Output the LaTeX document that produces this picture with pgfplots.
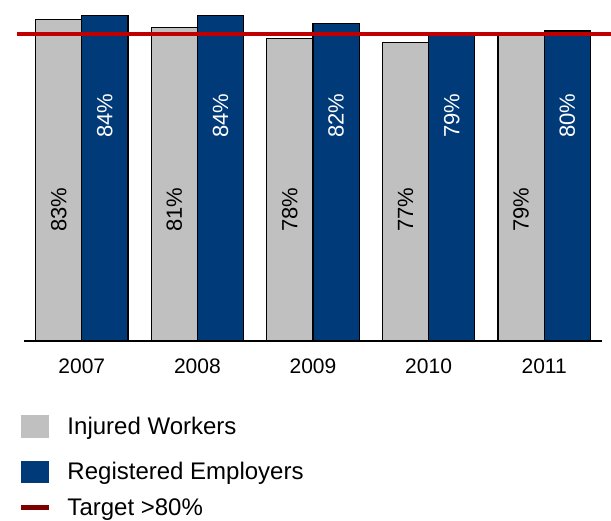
\documentclass[border=0pt]{standalone}
\usepackage{fontspec}
\setmainfont{Liberation Sans}
\usepackage{pgfplots}
\pgfplotsset{compat=1.18}
\definecolor{barGray}{HTML}{C0C0C0}
\definecolor{barNavy}{HTML}{003A78}
\definecolor{targetRed}{HTML}{C00000}
\definecolor{legRed}{HTML}{800000}
\begin{document}
\begin{tikzpicture}[font=\fontsize{21}{25}\selectfont]
\begin{axis}[
  scale only axis,
  width=578pt, height=341pt,
  at={(0,0)}, anchor=south west,
  xmin=-0.5, xmax=4.5, ymin=0, ymax=88,
  axis x line=bottom, axis y line=none,
  axis line style={-, line width=1.5pt, black},
  xtick={0,1,2,3,4},
  xticklabels={2007,2008,2009,2010,2011},
  major tick length=0pt,
  xticklabel style={font=\fontsize{21}{25}\selectfont, yshift=-14pt},
  clip=false,
  legend cell align=left,
  legend style={at={(0,0)}, anchor=north west, xshift=-6pt, yshift=-74pt,
    draw=none, fill=none, inner sep=0pt, outer sep=0pt,
    row sep=15.5pt, column sep=16pt,
    font=\fontsize{24}{28}\selectfont,
    nodes={inner sep=0pt}},
]
\addplot[ybar, bar width=0.4, bar shift=-0.2, fill=barGray, draw=black, line width=1.2pt,
  area legend,
  legend image code/.code={\fill[barGray, draw=none] (0pt,-11.5pt) rectangle (28pt,11.5pt);
    \path[draw=none, fill=none] (0pt,-19pt) -- (0pt,0pt);}]
  coordinates {(0,83) (1,81) (2,78) (3,77) (4,79)};
\addlegendentry{Injured Workers}
\addplot[ybar, bar width=0.4, bar shift=0.2, fill=barNavy, draw=black, line width=1.2pt,
  area legend,
  legend image code/.code={\fill[barNavy, draw=none] (0pt,-11pt) rectangle (28pt,11pt);}]
  coordinates {(0,84) (1,84) (2,82) (3,79) (4,80)};
\addlegendentry{Registered Employers}
\addplot[targetRed, line width=4pt, mark=none,
  legend image code/.code={\draw[legRed, line width=5.5pt] (0pt,0pt) -- (28pt,0pt);}]
  coordinates {(-0.56,79.3) (4.58,79.3)};
\addlegendentry{Target >80\%}
% value labels
\addplot[draw=none, mark=none, forget plot, point meta=explicit symbolic,
  nodes near coords={\pgfplotspointmeta},
  every node near coord/.append style={rotate=90, anchor=center, black, inner sep=0pt,
    font=\fontsize{22}{26}\selectfont}]
  coordinates {(-0.2,33.9) [83\%] (0.8,33.9) [81\%] (1.8,33.9) [78\%] (2.8,33.9) [77\%] (3.8,33.9) [79\%]};
\addplot[draw=none, mark=none, forget plot, point meta=explicit symbolic,
  nodes near coords={\pgfplotspointmeta},
  every node near coord/.append style={rotate=90, anchor=center, white, inner sep=0pt,
    font=\fontsize{22}{26}\selectfont}]
  coordinates {(0.2,58.1) [84\%] (1.2,58.1) [84\%] (2.2,58.1) [82\%] (3.2,58.1) [79\%] (4.2,58.1) [80\%]};
\end{axis}
\pgfresetboundingbox
\useasboundingbox (-24pt,-180pt) rectangle (587pt,341pt);
\end{tikzpicture}
\end{document}
